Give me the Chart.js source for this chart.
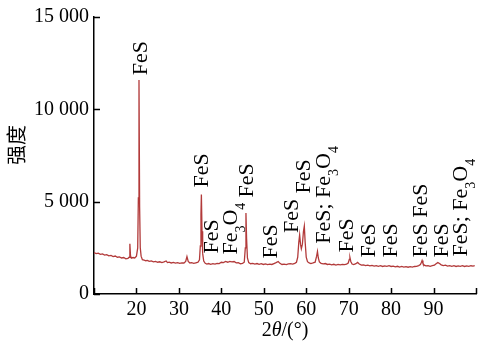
<!DOCTYPE html>
<html lang="zh">
<head>
<meta charset="utf-8">
<title>XRD 图谱</title>
<script src="https://cdn.jsdelivr.net/npm/chart.js@4/dist/chart.umd.min.js"></script>
<style>
  html, body { margin: 0; padding: 0; background: #fff; }
  #wrap { width: 483px; height: 343px; position: relative; }
</style>
</head>
<body>
<div id="wrap"><canvas id="xrd"></canvas></div>
<script>
// ── Data ───────────────────────────────────────────────────────────────────
const twoTheta = [
  10.0, 10.5, 11.0, 11.5, 12.0, 12.5, 13.0, 13.5, 14.0, 14.5, 15.0, 15.5, 16.0, 16.5, 17.0, 17.5,
  18.0, 18.3, 18.45, 18.6, 18.8, 19.2, 19.6, 20.0, 20.3, 20.45, 20.6, 20.75, 20.9, 21.1, 21.4, 21.8,
  22.2, 22.6, 23.0, 23.5, 24.0, 24.5, 25.0, 25.5, 26.0, 26.5, 27.0, 27.3, 27.7, 28.2, 28.7, 29.2,
  29.7, 30.2, 30.7, 31.2, 31.6, 31.9, 32.2, 32.6, 33.0, 33.5, 34.0, 34.5, 34.85, 35.05, 35.2, 35.3,
  35.45, 35.6, 35.85, 36.2, 36.6, 37.0, 37.5, 38.0, 38.5, 39.0, 39.5, 40.0, 40.5, 41.0, 41.5, 42.0,
  42.5, 43.0, 43.5, 44.0, 44.5, 45.0, 45.4, 45.65, 45.8, 45.95, 46.15, 46.45, 46.9, 47.4, 47.9, 48.4,
  48.9, 49.4, 49.9, 50.4, 50.9, 51.4, 51.9, 52.4, 52.9, 53.4, 53.8, 54.3, 54.8, 55.3, 55.8, 56.3,
  56.8, 57.3, 57.7, 58.0, 58.25, 58.45, 58.65, 58.85, 59.1, 59.35, 59.55, 59.75, 60.0, 60.3, 60.7, 61.1,
  61.6, 62.1, 62.45, 62.65, 62.85, 63.1, 63.5, 64.0, 64.5, 65.0, 65.5, 66.0, 66.5, 67.0, 67.5, 68.0,
  68.5, 69.0, 69.5, 69.9, 70.15, 70.3, 70.5, 70.8, 71.2, 71.7, 72.1, 72.5, 73.0, 73.5, 74.0, 74.5,
  75.0, 75.5, 76.0, 76.5, 77.0, 77.5, 78.0, 78.5, 79.0, 79.5, 80.0, 80.5, 81.0, 81.5, 82.0, 82.5,
  83.0, 83.5, 84.0, 84.5, 85.0, 85.5, 86.0, 86.5, 86.9, 87.15, 87.3, 87.5, 87.8, 88.2, 88.7, 89.2,
  89.7, 90.2, 90.6, 91.0, 91.4, 91.8, 92.3, 92.8, 93.3, 93.8, 94.3, 94.8, 95.3, 95.8, 96.3, 96.8,
  97.3, 97.8, 98.3, 98.8, 99.3, 99.7
];

const intensity = [
  2240, 2190, 2215, 2150, 2170, 2110, 2135, 2070, 2090, 2030, 2055, 1990, 2010, 1950, 1975, 1900,
  1930, 1990, 2720, 2080, 1940, 1975, 1950, 2050, 2500, 5200, 11585, 4700, 2500, 2050, 1860, 1830,
  1800, 1820, 1770, 1790, 1740, 1765, 1720, 1745, 1700, 1735, 1790, 1700, 1720, 1680, 1710, 1670,
  1700, 1660, 1690, 1680, 1760, 2030, 1760, 1680, 1700, 1660, 1690, 1720, 1850, 2600, 4300, 5390,
  3400, 2200, 1780, 1660, 1620, 1650, 1610, 1640, 1620, 1660, 1650, 1720, 1700, 1760, 1720, 1770,
  1740, 1760, 1690, 1700, 1640, 1660, 1720, 2500, 4380, 3000, 1950, 1700, 1640, 1660, 1620, 1650,
  1610, 1640, 1600, 1630, 1590, 1620, 1600, 1650, 1700, 1760, 1660, 1600, 1620, 1590, 1630, 1640,
  1620, 1660, 1720, 2000, 2800, 3200, 2700, 2450, 2700, 3400, 3680, 2800, 2000, 1750, 1680, 1650,
  1680, 1720, 2050, 2300, 1950, 1740, 1660, 1630, 1650, 1600, 1620, 1580, 1610, 1570, 1600, 1580,
  1600, 1590, 1620, 1680, 1880, 1975, 1760, 1620, 1590, 1640, 1710, 1620, 1560, 1580, 1540, 1560,
  1520, 1550, 1510, 1540, 1500, 1530, 1490, 1520, 1500, 1530, 1490, 1510, 1470, 1500, 1460, 1490,
  1460, 1480, 1450, 1480, 1460, 1490, 1500, 1540, 1600, 1720, 1815, 1660, 1560, 1520, 1540, 1500,
  1530, 1560, 1640, 1700, 1650, 1580, 1540, 1560, 1510, 1540, 1500, 1530, 1490, 1520, 1500, 1530,
  1490, 1520, 1500, 1530, 1510, 1540
];

// Phase labels: text ("_n" = subscript), anchor 2θ and intensity at the text's start
const peakLabels = ["FeS", "FeS", "FeS", "FeS", "Fe_3O_4", "FeS", "FeS", "FeS",
                    "FeS; Fe_3O_4", "FeS", "FeS", "FeS", "FeS FeS", "FeS", "FeS; Fe_3O_4"];
const labelTheta = [20.87, 35.28, 45.91, 37.64, 42.13, 51.58, 56.30, 59.14,
                    63.86, 69.29, 74.49, 79.69, 86.77, 91.73, 96.22];
const labelLevel = [11850, 5765, 5231, 2189, 2135, 1922, 3310, 5445,
                    2722, 2242, 1975, 1975, 1975, 1975, 2028];

const yTicks = [0, 5000, 10000, 15000];
const xTickLabels = ["", "20", "30", "40", "50", "60", "70", "80", "90", ""];

// ── Styling ────────────────────────────────────────────────────────────────
const SERIF = "'Liberation Serif', 'Times New Roman', serif";
const LINE_RED = "#b23a3a";
const INK = "#000";

/** "15000" -> "15 000" like the source figure. */
function fmtThousands(n) {
  if (n < 1000) return String(n);
  return Math.floor(n / 1000) + " " + String(n % 1000).padStart(3, "0");
}

/** Split "Fe_3O_4" into [{t:"Fe"}, {t:"3", sub:true}, ...]. */
function splitSub(str) {
  const parts = [];
  str.split(/(_\d)/).forEach(p => {
    if (!p) return;
    if (p[0] === "_") parts.push({ t: p.slice(1), sub: true });
    else parts.push({ t: p, sub: false });
  });
  return parts;
}

// ── Plugins: inward tick marks, rotated phase labels, axis titles ──────────
const innerTicks = {
  id: "innerTicks",
  afterDraw(chart) {
    const { ctx, chartArea: a, scales: { x, y } } = chart;
    ctx.save();
    ctx.strokeStyle = INK;
    ctx.lineWidth = 1.5;
    ctx.beginPath();
    x.ticks.forEach(t => {
      const px = Math.round(x.getPixelForValue(t.value)) + 0.5;
      ctx.moveTo(px, a.bottom);
      ctx.lineTo(px, a.bottom - 6);
    });
    y.ticks.forEach(t => {
      const py = Math.round(y.getPixelForValue(t.value)) + 0.5;
      ctx.moveTo(a.left, py);
      ctx.lineTo(a.left + 6, py);
    });
    ctx.stroke();
    ctx.restore();
  },
};

const phaseLabels = {
  id: "phaseLabels",
  afterDatasetsDraw(chart) {
    const { ctx, scales: { x, y } } = chart;
    ctx.save();
    ctx.fillStyle = INK;
    ctx.textAlign = "left";
    ctx.textBaseline = "alphabetic";
    peakLabels.forEach((txt, i) => {
      const px = x.getPixelForValue(labelTheta[i]);
      const py = y.getPixelForValue(labelLevel[i]);
      ctx.save();
      ctx.translate(px, py);
      ctx.rotate(-Math.PI / 2);
      let cx = 0;
      splitSub(txt).forEach(seg => {
        ctx.font = (seg.sub ? "14px " : "22px ") + SERIF;
        ctx.fillText(seg.t, cx, seg.sub ? 15 : 7);
        cx += ctx.measureText(seg.t).width;
      });
      ctx.restore();
    });
    ctx.restore();
  },
};

const axisTitles = {
  id: "axisTitles",
  afterDraw(chart) {
    const { ctx, chartArea: a } = chart;
    ctx.save();
    ctx.fillStyle = INK;
    ctx.textBaseline = "middle";

    // x title: 2θ/(°) with italic theta
    const segs = [
      { t: "2", f: "20px " + SERIF },
      { t: "θ", f: "italic 20px " + SERIF },
      { t: "/(°)", f: "20px " + SERIF },
    ];
    let w = 0;
    segs.forEach(s => { ctx.font = s.f; w += ctx.measureText(s.t).width; });
    let cx = (a.left + a.right) / 2 - w / 2;
    ctx.textAlign = "left";
    segs.forEach(s => {
      ctx.font = s.f;
      ctx.fillText(s.t, cx, 331);
      cx += ctx.measureText(s.t).width;
    });

    // y title: 强度, rotated
    ctx.translate(16, 145);
    ctx.rotate(-Math.PI / 2);
    ctx.textAlign = "center";
    ctx.font = "20px 'Noto Sans CJK SC', sans-serif";
    ctx.fillText("强度", 0, 0);
    ctx.restore();
  },
};

// ── Chart ──────────────────────────────────────────────────────────────────
const points = twoTheta.map((t, i) => ({ x: t, y: intensity[i] }));

new Chart(document.getElementById("xrd"), {
  type: "line",
  data: {
    datasets: [{
      data: points,
      borderColor: LINE_RED,
      borderWidth: 1.3,
      pointRadius: 0,
      tension: 0,
      fill: false,
    }],
  },
  options: {
    responsive: true,
    maintainAspectRatio: false,
    animation: false,
    events: [],
    layout: { padding: { top: 13, right: 7, left: 0, bottom: 0 } },
    plugins: {
      legend: { display: false },
      tooltip: { enabled: false },
    },
    scales: {
      x: {
        type: "linear",
        min: 10,
        max: 100,
        afterBuildTicks: s => { s.ticks = xTickLabels.map((_, i) => ({ value: 10 + i * 10 })); },
        ticks: {
          autoSkip: false,
          maxRotation: 0,
          padding: 4,
          color: INK,
          font: { family: SERIF, size: 20 },
          callback: (v, i) => xTickLabels[i],
        },
        grid: { display: false, drawTicks: false },
        border: { display: true, color: INK, width: 1.5 },
        afterFit: s => { s.height = 49; },
      },
      y: {
        min: 0,
        max: 15000,
        afterBuildTicks: s => { s.ticks = yTicks.map(v => ({ value: v })); },
        ticks: {
          padding: 5,
          color: INK,
          font: { family: SERIF, size: 20 },
          callback: v => fmtThousands(v),
        },
        grid: { display: false, drawTicks: false },
        border: { display: true, color: INK, width: 1.5 },
        afterFit: s => { s.width = 94; },
      },
    },
  },
  plugins: [innerTicks, phaseLabels, axisTitles],
});
</script>
</body>
</html>
